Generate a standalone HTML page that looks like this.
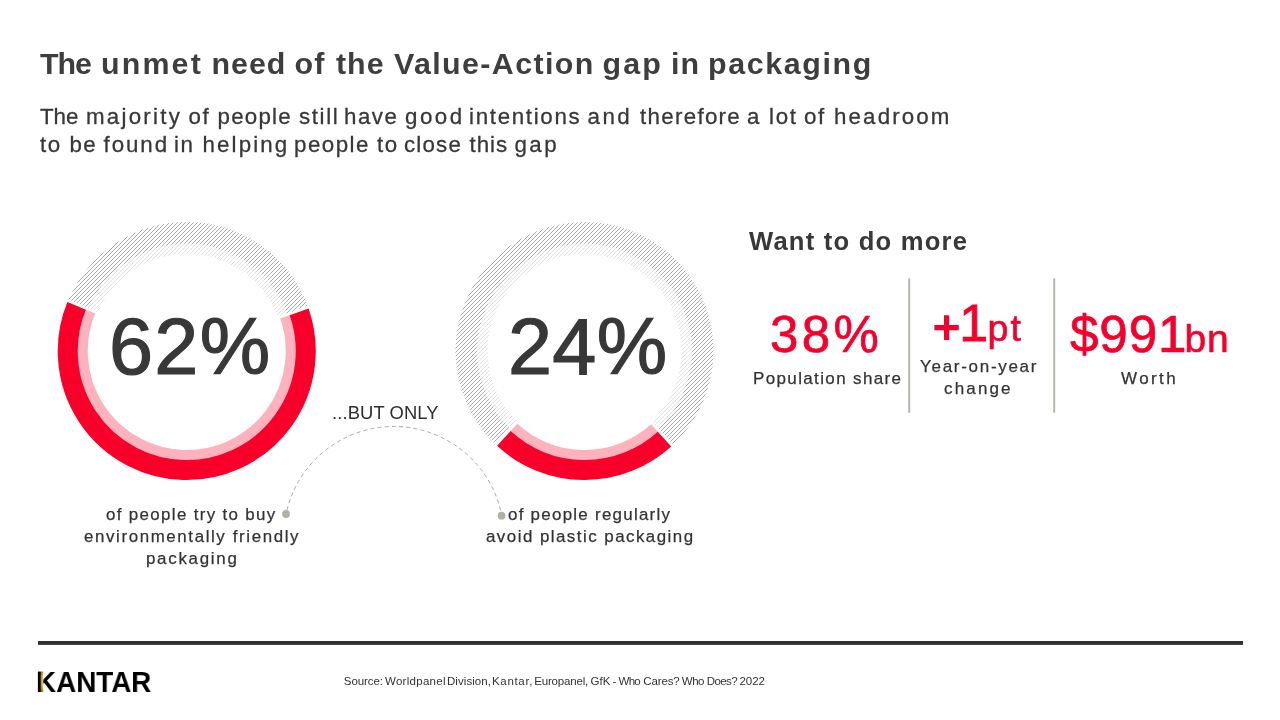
<!DOCTYPE html>
<html>
<head>
<meta charset="utf-8">
<title>The unmet need of the Value-Action gap in packaging</title>
<style>
  html, body { margin: 0; padding: 0; }
  body { width: 1280px; height: 720px; background: #ffffff; overflow: hidden; position: relative;
         font-family: "Liberation Sans", sans-serif; color: #3a3a3a; }
  .w { position: absolute; top: 0; }
  .t { position: absolute; white-space: nowrap; line-height: 1; margin: 0; will-change: transform; }
  #title { left:0.00px; top:48.04px; font-size:30.4px; letter-spacing:1.156px; font-weight:bold;color:#3e3e3e }
  #sub1 { left:0.00px; top:106.00px; font-size:22.3px; letter-spacing:1.500px; color:#383838;-webkit-text-stroke:0.3px #383838 }
  #sub2 { left:0.00px; top:134.00px; font-size:22.3px; letter-spacing:1.435px; color:#383838;-webkit-text-stroke:0.3px #383838 }
  #big1 { left:108.90px; top:307.08px; font-size:79.2px; letter-spacing:1.300px; color:#383838;-webkit-text-stroke:1.2px #383838 }
  #big2 { left:508.30px; top:307.08px; font-size:79.2px; letter-spacing:0.300px; color:#383838;-webkit-text-stroke:1.2px #383838 }
  #butonly { left:332.00px; top:404.10px; font-size:18.4px; letter-spacing:0.100px; color:#2e2e2e }
  #l1a { left:106.00px; top:506.94px; font-size:16.9px; letter-spacing:1.347px; color:#333;-webkit-text-stroke:0.25px #333 }
  #l1b { left:84.00px; top:528.94px; font-size:16.9px; letter-spacing:1.609px; color:#333;-webkit-text-stroke:0.25px #333 }
  #l1c { left:146.20px; top:550.94px; font-size:16.9px; letter-spacing:1.725px; color:#333;-webkit-text-stroke:0.25px #333 }
  #l2a { left:508.00px; top:506.94px; font-size:16.9px; letter-spacing:1.278px; color:#333;-webkit-text-stroke:0.25px #333 }
  #l2b { left:486.00px; top:528.94px; font-size:16.9px; letter-spacing:1.473px; color:#333;-webkit-text-stroke:0.25px #333 }
  #want { left:749.00px; top:228.95px; font-size:25.6px; letter-spacing:1.214px; font-weight:bold;color:#383838 }
  #s1 { left:769.90px; top:309.10px; font-size:51.0px; letter-spacing:3.400px; color:#f5002d;-webkit-text-stroke:0.7px #f5002d }
  #c1 { left:752.50px; top:369.98px; font-size:17.0px; letter-spacing:1.360px; color:#333;-webkit-text-stroke:0.25px #333 }
  #s2 { left:932.80px; top:297.96px; font-size:51.7px; letter-spacing:1.000px; color:#f5002d;-webkit-text-stroke:0.9px #f5002d }
  #c2a { left:920.40px; top:357.98px; font-size:17.0px; letter-spacing:1.709px; color:#333;-webkit-text-stroke:0.25px #333 }
  #c2b { left:944.40px; top:380.03px; font-size:17.0px; letter-spacing:2.160px; color:#333;-webkit-text-stroke:0.25px #333 }
  #s3 { left:1070.00px; top:308.88px; font-size:51.2px; letter-spacing:0.900px; color:#f5002d;-webkit-text-stroke:0.7px #f5002d }
  #c3 { left:1121.00px; top:369.98px; font-size:17.0px; letter-spacing:2.400px; color:#333;-webkit-text-stroke:0.25px #333 }
  #kantar { left:36.00px; top:665.89px; font-size:30.4px; letter-spacing:0.000px; font-weight:bold;color:#000;transform:scaleX(0.915);transform-origin:0 0 }
  #src { left:0.00px; top:675.94px; font-size:11.5px; letter-spacing:-0.174px; color:#333 }
</style>
</head>
<body>
<svg id="art" width="1280" height="720" viewBox="0 0 1280 720" style="position:absolute;left:0;top:0">
  <defs>
    <pattern id="hd" width="4" height="4" patternUnits="userSpaceOnUse">
      <path d="M-1 5L5 -1M-1 1L1 -1M3 5L5 3" stroke="#848484" stroke-width="0.7" fill="none"/>
    </pattern>
    <pattern id="hl" width="4" height="4" patternUnits="userSpaceOnUse">
      <path d="M-1 5L5 -1M-1 1L1 -1M3 5L5 3" stroke="#d4d4d4" stroke-width="0.7" fill="none"/>
    </pattern>
  </defs>
  <!-- donut 1 -->
  <path d="M78.53 303.72A118.1 118.1 0 0 1 297.37 309.64" fill="none" stroke="url(#hd)" stroke-width="21.8"/>
  <path d="M93.19 310.12A102.1 102.1 0 0 1 282.38 315.24" fill="none" stroke="url(#hl)" stroke-width="10.2"/>
  <path d="M285.44 316.63A104.5 104.5 0 1 1 90.07 311.35" fill="none" stroke="#fdb3be" stroke-width="11"/>
  <path d="M299.13 311.86A119 119 0 1 1 76.65 305.84" fill="none" stroke="#f8002a" stroke-width="20"/>
  <!-- donut 2 -->
  <path d="M502.46 435.95A118.1 118.1 0 1 1 665.87 436.60" fill="none" stroke="url(#hd)" stroke-width="21.8"/>
  <path d="M513.58 424.44A102.1 102.1 0 1 1 654.85 425.00" fill="none" stroke="url(#hl)" stroke-width="10.2"/>
  <path d="M654.76 428.35A104.5 104.5 0 0 1 513.63 427.80" fill="none" stroke="#fdb3be" stroke-width="11"/>
  <path d="M664.51 439.09A119 119 0 0 1 503.80 438.45" fill="none" stroke="#f8002a" stroke-width="20"/>
  <!-- connector -->
  <path d="M287 510A110 110 0 0 1 501 512" fill="none" stroke="#a8a8a4" stroke-width="1" stroke-dasharray="4 3.2"/>
  <circle cx="286" cy="514" r="3.9" fill="#b1b2a6"/>
  <circle cx="501.6" cy="515.7" r="3.9" fill="#b1b2a6"/>
  <!-- dividers -->
  <rect x="908.2" y="278.3" width="2" height="134.4" fill="#b7b6ae"/>
  <rect x="1053.2" y="278.3" width="2" height="134.4" fill="#b7b6ae"/>
  <!-- footer rule -->
  <rect x="38" y="641" width="1205" height="3.9" fill="#303030"/>
</svg>
<div class="t" id="title"><span class="w" id="title_w0" style="left:40.00px;letter-spacing:-1.044px">The</span> <span class="w" id="title_w1" style="left:101.00px;letter-spacing:2.156px">unmet</span> <span class="w" id="title_w2" style="left:211.50px;letter-spacing:1.000px">need</span> <span class="w" id="title_w3" style="left:294.50px;letter-spacing:1.156px">of</span> <span class="w" id="title_w4" style="left:336.00px;letter-spacing:1.000px">the</span> <span class="w" id="title_w5" style="left:394.00px;letter-spacing:1.386px">Value-Action</span> <span class="w" id="title_w6" style="left:602.50px;letter-spacing:2.156px">gap</span> <span class="w" id="title_w7" style="left:671.00px;letter-spacing:1.156px">in</span> <span class="w" id="title_w8" style="left:708.00px;letter-spacing:1.625px">packaging</span></div>
<div class="t" id="sub1"><span class="w" id="sub1_w0" style="left:40.00px;letter-spacing:0.000px">The</span> <span class="w" id="sub1_w1" style="left:86.00px;letter-spacing:2.250px">majority</span> <span class="w" id="sub1_w2" style="left:188.50px;letter-spacing:1.500px">of</span> <span class="w" id="sub1_w3" style="left:217.50px;letter-spacing:1.250px">people</span> <span class="w" id="sub1_w4" style="left:299.00px;letter-spacing:1.625px">still</span> <span class="w" id="sub1_w5" style="left:344.00px;letter-spacing:1.500px">have</span> <span class="w" id="sub1_w6" style="left:405.00px;letter-spacing:2.500px">good</span> <span class="w" id="sub1_w7" style="left:469.00px;letter-spacing:1.694px">intentions</span> <span class="w" id="sub1_w8" style="left:587.50px;letter-spacing:2.500px">and</span> <span class="w" id="sub1_w9" style="left:640.00px;letter-spacing:1.312px">therefore</span> <span class="w" id="sub1_w10" style="left:747.00px;letter-spacing:1.500px">a</span> <span class="w" id="sub1_w11" style="left:769.00px;letter-spacing:1.750px">lot</span> <span class="w" id="sub1_w12" style="left:804.00px;letter-spacing:1.500px">of</span> <span class="w" id="sub1_w13" style="left:834.00px;letter-spacing:2.143px">headroom</span></div>
<div class="t" id="sub2"><span class="w" id="sub2_w0" style="left:40.00px;letter-spacing:1.435px">to</span> <span class="w" id="sub2_w1" style="left:69.50px;letter-spacing:1.435px">be</span> <span class="w" id="sub2_w2" style="left:103.50px;letter-spacing:1.938px">found</span> <span class="w" id="sub2_w3" style="left:174.00px;letter-spacing:1.435px">in</span> <span class="w" id="sub2_w4" style="left:202.50px;letter-spacing:2.125px">helping</span> <span class="w" id="sub2_w5" style="left:294.00px;letter-spacing:1.500px">people</span> <span class="w" id="sub2_w6" style="left:377.00px;letter-spacing:1.435px">to</span> <span class="w" id="sub2_w7" style="left:404.00px;letter-spacing:1.188px">close</span> <span class="w" id="sub2_w8" style="left:469.50px;letter-spacing:1.000px">this</span> <span class="w" id="sub2_w9" style="left:514.50px;letter-spacing:2.435px">gap</span></div>
<div class="t" id="big1">62%</div>
<div class="t" id="big2">24%</div>
<div class="t" id="butonly">...BUT ONLY</div>
<div class="t" id="l1a">of people try to buy</div>
<div class="t" id="l1b">environmentally friendly</div>
<div class="t" id="l1c">packaging</div>
<div class="t" id="l2a">of people regularly</div>
<div class="t" id="l2b">avoid plastic packaging</div>
<div class="t" id="want">Want to do more</div>
<div class="t" id="s1">38%</div>
<div class="t" id="c1">Population share</div>
<div class="t" id="s2"><span style="font-size:46.5px;position:relative;top:2px;-webkit-text-stroke-width:1.8px">+</span><span style="margin-left:-2px">1</span><span style="font-size:37.5px;-webkit-text-stroke-width:0.6px;margin-left:-1.5px;letter-spacing:2.2px">pt</span></div>
<div class="t" id="c2a">Year-on-year</div>
<div class="t" id="c2b">change</div>
<div class="t" id="s3">$991<span style="font-size:39px;-webkit-text-stroke-width:0.6px;margin-left:-3px">bn</span></div>
<div class="t" id="c3">Worth</div>
<div class="t" id="kantar">KANTAR</div>
<div class="t" id="src"><span class="w" id="src_w0" style="left:343.80px;letter-spacing:-0.083px">Source:</span> <span class="w" id="src_w1" style="left:385.00px;letter-spacing:0.278px">Worldpanel</span> <span class="w" id="src_w2" style="left:447.00px;letter-spacing:0.062px">Division,</span> <span class="w" id="src_w3" style="left:492.00px;letter-spacing:0.667px">Kantar,</span> <span class="w" id="src_w4" style="left:534.20px;letter-spacing:-0.167px">Europanel,</span> <span class="w" id="src_w5" style="left:590.40px;letter-spacing:0.125px">GfK</span> <span class="w" id="src_w6" style="left:612.50px;letter-spacing:-0.174px">-</span> <span class="w" id="src_w7" style="left:618.60px;letter-spacing:-0.750px">Who</span> <span class="w" id="src_w8" style="left:643.20px;letter-spacing:-0.100px">Cares?</span> <span class="w" id="src_w9" style="left:681.80px;letter-spacing:-0.500px">Who</span> <span class="w" id="src_w10" style="left:706.80px;letter-spacing:-0.625px">Does?</span> <span class="w" id="src_w11" style="left:739.40px;letter-spacing:0.000px">2022</span></div>
<svg id="goldbar" width="10" height="26" viewBox="0 0 10 26" style="position:absolute;left:36px;top:669px"><defs><linearGradient id="gk" x1="0" y1="0" x2="1" y2="0"><stop offset="0" stop-color="#000"/><stop offset="0.4" stop-color="#0a0800"/><stop offset="0.62" stop-color="#b3963a"/><stop offset="1" stop-color="#f3e08c"/></linearGradient><linearGradient id="gv" x1="0" y1="0" x2="0" y2="1"><stop offset="0" stop-color="#000" stop-opacity="0.25"/><stop offset="0.3" stop-color="#000" stop-opacity="0"/><stop offset="0.7" stop-color="#000" stop-opacity="0"/><stop offset="1" stop-color="#000" stop-opacity="0.35"/></linearGradient></defs><rect x="2" y="2.6" width="5.3" height="20.4" fill="url(#gk)"/><rect x="2" y="2.6" width="5.3" height="20.4" fill="url(#gv)"/></svg>
</body>
</html>
